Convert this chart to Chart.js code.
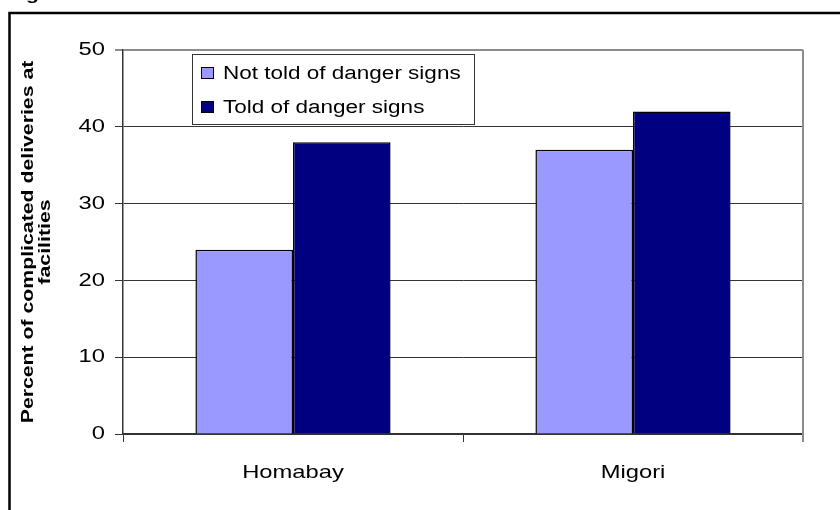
<!DOCTYPE html>
<html>
<head>
<meta charset="utf-8">
<script src="https://cdn.jsdelivr.net/npm/chart.js@4"></script>
<style>
  body { margin: 0; background: #fff; }
</style>
</head>
<body>
<canvas id="deliveryChart" width="840" height="510"></canvas>
<script>
// data
var districts = ['Homabay', 'Migori'];
var notToldValues = [24, 37];
var toldValues = [38, 42];
var seriesNames = ['Not told of danger signs', 'Told of danger signs'];
var seriesColors = ['#9999FF', '#000080'];
var yTicks = [0, 10, 20, 30, 40, 50];

var FONT = 'Arial, "Liberation Sans", sans-serif';
// the text in the picture is drawn wider than plain Arial
var STRETCH = 1.25;

var ctx = document.getElementById('deliveryChart').getContext('2d');

// stretch every text along its own baseline, and measure it the same way
var rawFill = ctx.fillText.bind(ctx);
var rawMeasure = ctx.measureText.bind(ctx);
ctx.fillText = function(text, x, y) {
    ctx.save();
    ctx.translate(x, y);
    ctx.scale(STRETCH, 1);
    rawFill(text, 0, 0);
    ctx.restore();
};
ctx.measureText = function(text) {
    var m = rawMeasure(text);
    return {
        width: m.width * STRETCH,
        actualBoundingBoxAscent: m.actualBoundingBoxAscent,
        actualBoundingBoxDescent: m.actualBoundingBoxDescent,
        actualBoundingBoxLeft: m.actualBoundingBoxLeft * STRETCH,
        actualBoundingBoxRight: m.actualBoundingBoxRight * STRETCH
    };
};

// outer frame, cut caption, right border of plot and the boxed legend
var framePlugin = {
    id: 'frame',
    afterDraw: function(chart) {
        var c = chart.ctx;
        var area = chart.chartArea;
        c.save();

        // caption above the frame, only the tail of its "g" is in view
        c.fillStyle = '#000';
        c.font = 'bold 17px ' + FONT;
        c.textAlign = 'left';
        c.textBaseline = 'alphabetic';
        c.fillText('Figure', 7, 0);

        c.strokeStyle = '#000';
        c.lineWidth = 2.5;
        c.beginPath();
        c.moveTo(9.5, 510);
        c.lineTo(9.5, 13);
        c.lineTo(840, 13);
        c.stroke();

        // right side of the plot area
        c.strokeStyle = '#8c8c8c';
        c.lineWidth = 2;
        c.beginPath();
        c.moveTo(area.right, area.top);
        c.lineTo(area.right, area.bottom + 8);
        c.stroke();

        // legend box
        var bx = 192.5, by = 54.5, bw = 282, bh = 70;
        c.fillStyle = '#fff';
        c.fillRect(bx, by, bw, bh);
        c.strokeStyle = '#333';
        c.lineWidth = 1;
        c.strokeRect(bx, by, bw, bh);

        c.font = '18px ' + FONT;
        c.textBaseline = 'middle';
        chart.data.datasets.forEach(function(ds, i) {
            var cy = 73 + i * 34;
            c.fillStyle = ds.backgroundColor;
            c.fillRect(201.5, cy - 5.5, 12, 11);
            c.strokeStyle = '#000';
            c.strokeRect(201.5, cy - 5.5, 12, 11);
            c.fillStyle = '#000';
            c.fillText(ds.label, 223, cy + 1);
        });
        c.restore();
    }
};

var deliveryChart = new Chart(ctx, {
    type: 'bar',
    data: {
        labels: districts,
        datasets: [{
            label: seriesNames[0],
            data: notToldValues,
            backgroundColor: seriesColors[0],
            borderColor: '#000',
            borderWidth: 1.5
        }, {
            label: seriesNames[1],
            data: toldValues,
            backgroundColor: seriesColors[1],
            borderColor: '#000',
            borderWidth: 1.5
        }]
    },
    options: {
        responsive: false,
        animation: false,
        devicePixelRatio: 1,
        layout: { padding: { top: 50, right: 37, bottom: 0, left: 0 } },
        datasets: {
            bar: { categoryPercentage: 0.574, barPercentage: 1.0 }
        },
        plugins: {
            legend: { display: false },
            tooltip: { enabled: false }
        },
        scales: {
            x: {
                afterFit: function(scale) { scale.height = 76; },
                grid: {
                    offset: true,
                    drawOnChartArea: false,
                    drawTicks: true,
                    tickLength: 8,
                    color: '#333'
                },
                border: { color: '#333', width: 1.5 },
                ticks: {
                    color: '#000',
                    padding: 19,
                    font: { family: FONT, size: 19 }
                }
            },
            y: {
                min: 0,
                max: 50,
                afterFit: function(scale) { scale.width = 123; },
                afterBuildTicks: function(scale) {
                    scale.ticks = yTicks.map(function(v) { return { value: v }; });
                },
                grid: {
                    tickLength: 8,
                    color: function(c) { return c.tick && c.tick.value === 50 ? '#8c8c8c' : '#333'; },
                    lineWidth: function(c) { return c.tick && c.tick.value === 50 ? 2 : 1; }
                },
                border: { color: '#333', width: 1.5 },
                ticks: {
                    color: '#000',
                    padding: 10,
                    font: { family: FONT, size: 19 }
                },
                title: {
                    display: true,
                    text: ['Percent of complicated deliveries at', 'facilities'],
                    color: '#000',
                    padding: { top: 20, bottom: 0 },
                    font: { family: FONT, size: 17, weight: 'bold', lineHeight: 1.0 }
                }
            }
        }
    },
    plugins: [framePlugin]
});
</script>
</body>
</html>
